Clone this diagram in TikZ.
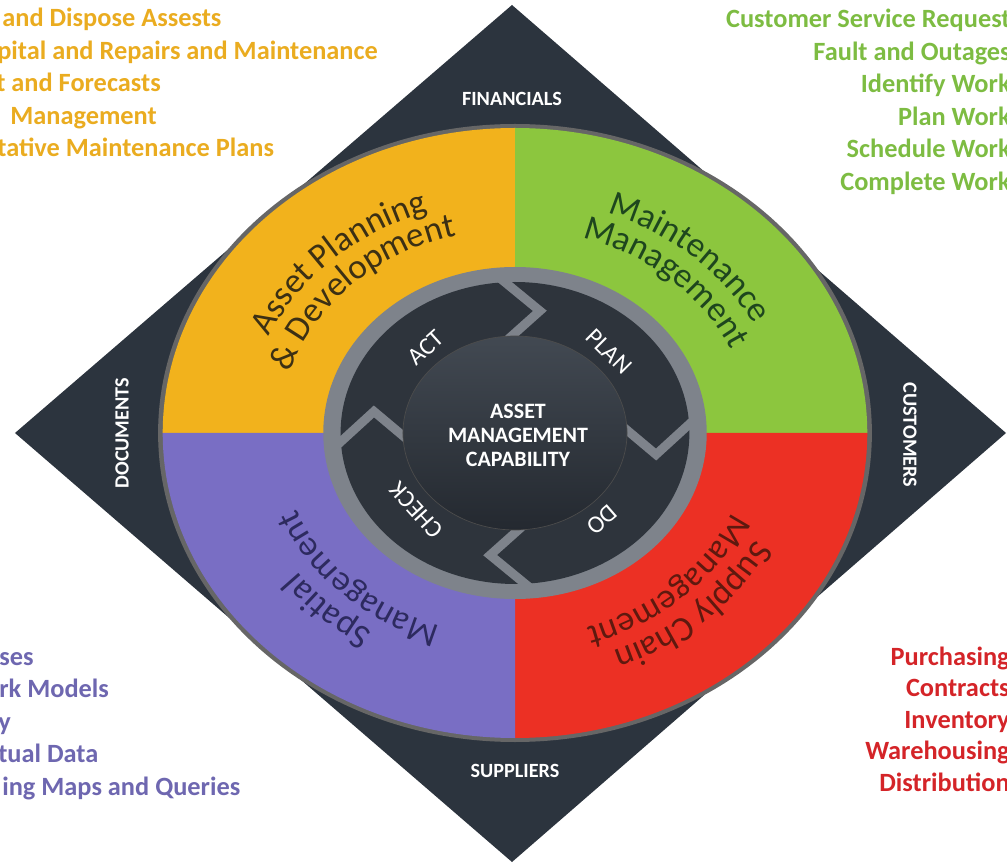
\documentclass[tikz,border=0pt]{standalone}
\usepackage{fontspec}
\setmainfont{Carlito}
\usetikzlibrary{decorations.text}

\definecolor{framenavy}{RGB}{44,52,62}
\definecolor{apdyellow}{RGB}{242,178,28}
\definecolor{mmgreen}{RGB}{140,198,62}
\definecolor{smpurple}{RGB}{121,110,196}
\definecolor{scmred}{RGB}{236,48,36}
\definecolor{ringgray}{RGB}{126,131,139}
\definecolor{ringdark}{RGB}{46,52,60}
\definecolor{hubtop}{RGB}{66,73,82}
\definecolor{hubbottom}{RGB}{36,41,48}
\definecolor{apdtext}{RGB}{234,172,32}
\definecolor{mmtext}{RGB}{125,188,66}
\definecolor{smtext}{RGB}{110,103,176}
\definecolor{scmtext}{RGB}{212,36,40}
\definecolor{apdlabel}{RGB}{60,48,20}
\definecolor{mmlabel}{RGB}{30,70,30}
\definecolor{smlabel}{RGB}{45,42,95}
\definecolor{scmlabel}{RGB}{95,25,15}

\newcommand{\quadlabelfont}{\fontsize{20}{22}\selectfont}

\tikzset{
  listitem/.style={font=\fontsize{15}{17}\selectfont\bfseries, inner sep=0pt},
  sidelabel/.style={font=\fontsize{11.5}{13}\selectfont\bfseries, text=white, inner sep=0pt},
  cyclelabel/.style={font=\fontsize{14}{16}\selectfont, text=white, inner sep=0pt},
  hublabel/.style={font=\fontsize{12.5}{13.6}\selectfont\bfseries, text=white, align=center, inner sep=0pt},
  chevron/.style={draw=ringgray, line width=0.18cm, line join=miter},
  arclabel/.style 2 args={decorate, decoration={text along path, text align=center,
      text color=#1, text={|\quadlabelfont|#2}}}
}

\begin{document}
\begin{tikzpicture}[x=0.02cm, y=0.02cm]
  \useasboundingbox (-515,-432) rectangle (492,433);

  % frame
  \fill[framenavy] (-3,428) -- (491,0) -- (-3,-429) -- (-500,0) -- cycle;

  % wheel (squeezed like the original)
  \begin{scope}[xscale=1.155]
    \fill[black!60] (0,0) circle[radius=309];
    \fill[apdyellow] (0,0) -- (180:305) arc[start angle=180, end angle=90, radius=305] -- cycle;
    \fill[mmgreen] (0,0) -- (90:305) arc[start angle=90, end angle=0, radius=305] -- cycle;
    \fill[scmred] (0,0) -- (0:305) arc[start angle=0, end angle=-90, radius=305] -- cycle;
    \fill[smpurple] (0,0) -- (-90:305) arc[start angle=-90, end angle=-180, radius=305] -- cycle;
    \fill[ringgray] (0,0) circle[radius=166];
    \fill[ringdark] (0,0) circle[radius=151];
    \draw[chevron] (95:156) -- (80:124) -- (95:92);
    \draw[chevron] (5:156) -- (-10:124) -- (5:92);
    \draw[chevron] (-85:156) -- (-100:124) -- (-85:92);
    \draw[chevron] (185:156) -- (170:124) -- (185:92);
    \shade[top color=hubtop, bottom color=hubbottom, draw=black!70] (0,0) circle[radius=97];
  \end{scope}

  % quadrant names
  \path[arclabel={apdlabel}{Asset Planning}] (184:270 and 234) arc[start angle=184, end angle=84, x radius=270, y radius=234];
  \path[arclabel={apdlabel}{{\&} Development}] (185:236 and 204) arc[start angle=185, end angle=85, x radius=236, y radius=204];
  \path[arclabel={mmlabel}{Maintenance}] (97:270 and 234) arc[start angle=97, end angle=-3, x radius=270, y radius=234];
  \path[arclabel={mmlabel}{Management}] (97:236 and 204) arc[start angle=97, end angle=-3, x radius=236, y radius=204];
  \path[arclabel={scmlabel}{Supply Chain}] (4:270 and 234) arc[start angle=4, end angle=-96, x radius=270, y radius=234];
  \path[arclabel={scmlabel}{Management}] (4:236 and 204) arc[start angle=4, end angle=-96, x radius=236, y radius=204];
  \path[arclabel={smlabel}{Spatial}] (275:270 and 234) arc[start angle=275, end angle=175, x radius=270, y radius=234];
  \path[arclabel={smlabel}{Management}] (275:236 and 204) arc[start angle=275, end angle=175, x radius=236, y radius=204];

  % cycle
  \node[cyclelabel, rotate=42] (act) at (132:133 and 115) {ACT};
  \node[cyclelabel, rotate=-45] (plan) at (45:133 and 115) {PLAN};
  \node[cyclelabel, rotate=-139] (do) at (-49:133 and 115) {DO};
  \node[cyclelabel, rotate=132] (check) at (-138:133 and 115) {CHECK};
  \node[hublabel] (hub) at (3,-2) {ASSET\\MANAGEMENT\\CAPABILITY};

  % frame sides
  \node[sidelabel] (financials) at (-3,334) {FINANCIALS};
  \node[sidelabel] (suppliers) at (0,-338) {SUPPLIERS};
  \node[sidelabel, rotate=90] (documents) at (-393,0) {DOCUMENTS};
  \node[sidelabel, rotate=-90] (customers) at (395,-2) {CUSTOMERS};

  % lists
  \node[listitem, text=apdtext, anchor=base west] (apd1) at (-513,406) {and Dispose Assests};
  \node[listitem, text=apdtext, anchor=base west] (apd2) at (-518,373.5) {pital and Repairs and Maintenance};
  \node[listitem, text=apdtext, anchor=base west] (apd3) at (-519,341) {t and Forecasts};
  \node[listitem, text=apdtext, anchor=base west] (apd4) at (-505,308.5) {Management};
  \node[listitem, text=apdtext, anchor=base west] (apd5) at (-518,276) {tative Maintenance Plans};

  \node[listitem, text=mmtext, anchor=base east] (mm1) at (496,405) {Customer Service Request};
  \node[listitem, text=mmtext, anchor=base east] (mm2) at (496,372.5) {Fault and Outages};
  \node[listitem, text=mmtext, anchor=base east] (mm3) at (496,340) {Identify Work};
  \node[listitem, text=mmtext, anchor=base east] (mm4) at (496,307.5) {Plan Work};
  \node[listitem, text=mmtext, anchor=base east] (mm5) at (496,275) {Schedule Work};
  \node[listitem, text=mmtext, anchor=base east] (mm6) at (496,242.5) {Complete Work};

  \node[listitem, text=smtext, anchor=base west] (sm1) at (-516,-232) {ses};
  \node[listitem, text=smtext, anchor=base west] (sm2) at (-516,-264.5) {rk Models};
  \node[listitem, text=smtext, anchor=base west] (sm3) at (-517,-297) {y};
  \node[listitem, text=smtext, anchor=base west] (sm4) at (-517,-329.5) {tual Data};
  \node[listitem, text=smtext, anchor=base west] (sm5) at (-513,-362) {ing Maps and Queries};

  \node[listitem, text=scmtext, anchor=base east] (scm1) at (495,-232) {Purchasing};
  \node[listitem, text=scmtext, anchor=base east] (scm2) at (495,-263.5) {Contracts};
  \node[listitem, text=scmtext, anchor=base east] (scm3) at (495,-295) {Inventory};
  \node[listitem, text=scmtext, anchor=base east] (scm4) at (495,-326.5) {Warehousing};
  \node[listitem, text=scmtext, anchor=base east] (scm5) at (495,-358) {Distribution};
\end{tikzpicture}
\end{document}
